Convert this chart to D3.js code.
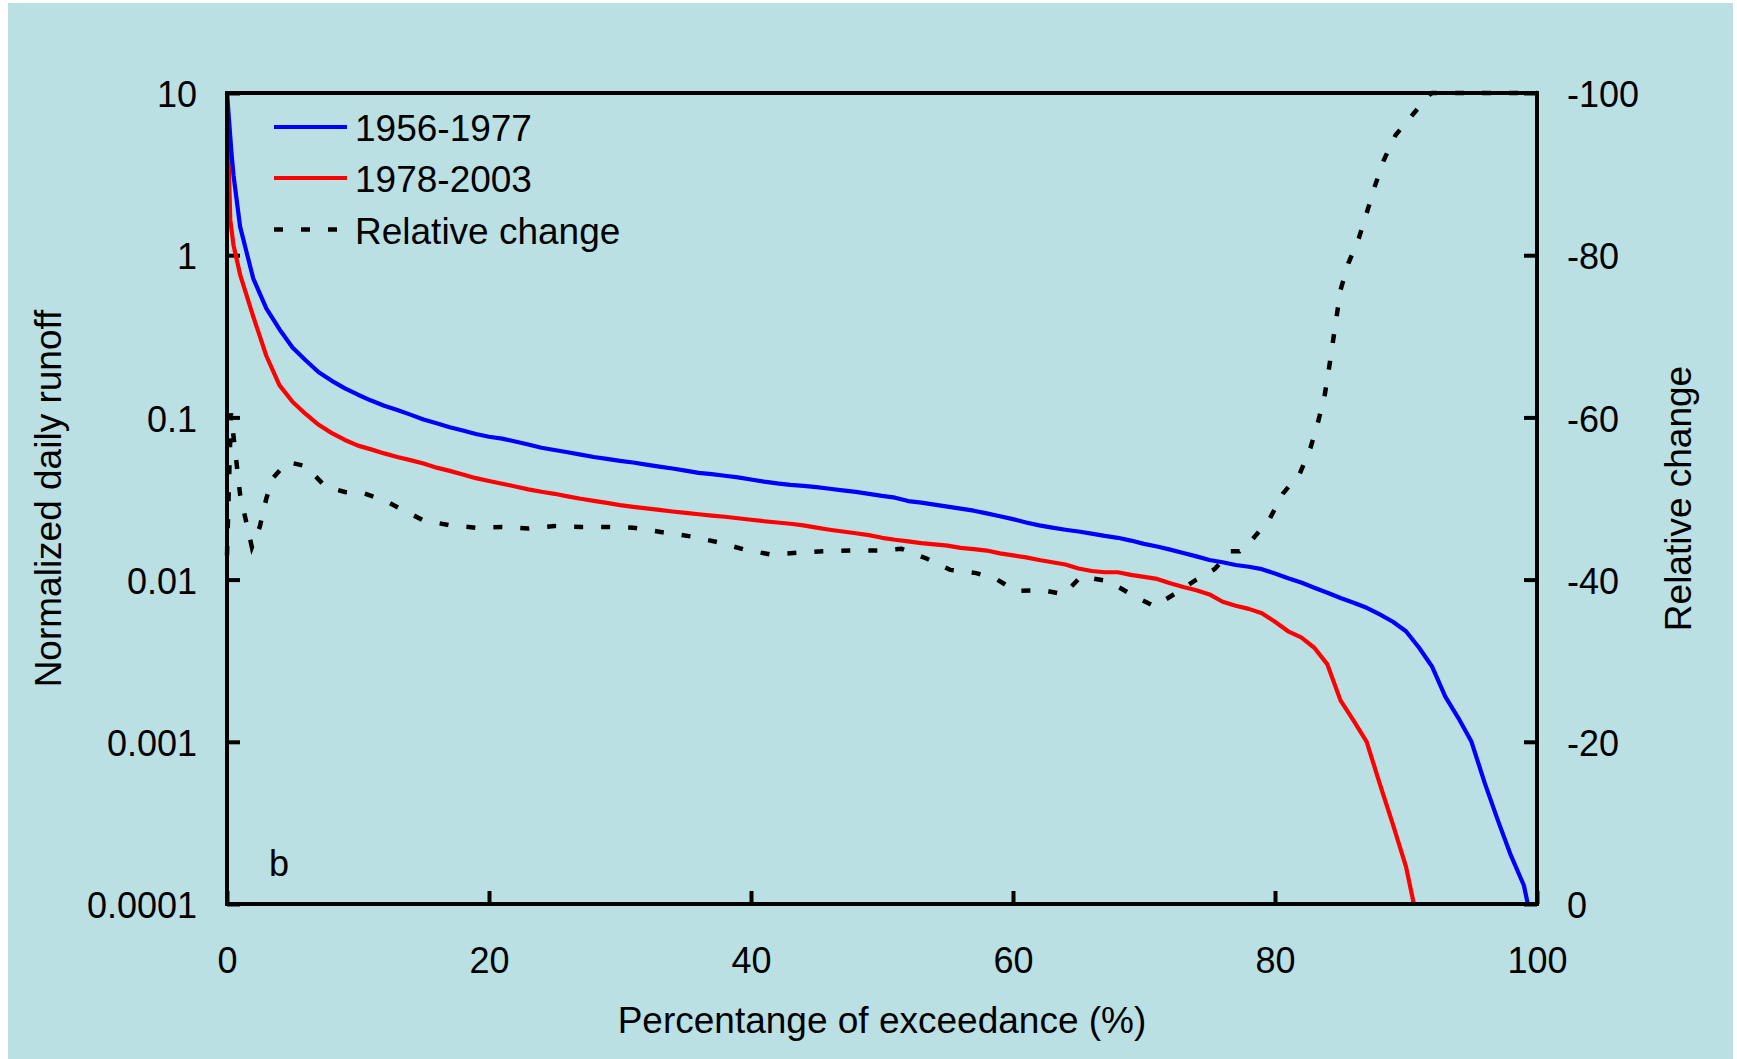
<!DOCTYPE html>
<html>
<head>
<meta charset="utf-8">
<script src="https://cdn.jsdelivr.net/npm/d3@7"></script>
<style>
  html, body { margin: 0; padding: 0; background: #ffffff; }
  svg { display: block; font-family: "Liberation Sans", Arial, sans-serif; }
</style>
</head>
<body>
<svg id="chart" width="1737" height="1059"></svg>
<script>
// ---------------- DATA ----------------
const seriesNames = ["1956-1977", "1978-2003", "Relative change"];

const pctBlue = [0,0.35,0.5,1,2,3,4,5,6,7,8,9,10,11,12,13,14,15,16,17,18,19,20,21,22,23,24,25,26,27,28,29,30,31,32,33,34,35,36,37,38,39,40,41,42,43,44,45,46,47,48,49,50,51,52,53,54,55,56,57,58,59,60,61,62,63,64,65,66,67,68,69,70,71,72,73,74,75,76,77,78,79,80,81,82,83,84,85,86,87,88,89,90,91,92,93,94,95,96,97,98,99,99.3];
const runoff1956 = [10,4.2,3.1,1.5,0.72,0.47,0.35,0.27,0.225,0.19,0.168,0.151,0.138,0.127,0.118,0.111,0.104,0.097,0.092,0.087,0.083,0.079,0.076,0.074,0.071,0.068,0.065,0.063,0.061,0.059,0.057,0.0555,0.054,0.0527,0.0512,0.0497,0.0484,0.047,0.0455,0.0447,0.0437,0.0427,0.0414,0.0402,0.0392,0.0384,0.0378,0.0372,0.0363,0.0355,0.0347,0.0338,0.0328,0.032,0.0305,0.0298,0.029,0.0282,0.0274,0.0266,0.0256,0.0246,0.0236,0.0225,0.0216,0.0209,0.0203,0.0198,0.0192,0.0186,0.0181,0.0174,0.0166,0.016,0.0153,0.0146,0.0139,0.0132,0.0128,0.0123,0.012,0.0116,0.0109,0.0102,0.0096,0.0089,0.0083,0.0077,0.0072,0.0067,0.0061,0.0055,0.0048,0.0038,0.0029,0.0019,0.0014,0.001,0.00056,0.00033,0.0002,0.00013,0.0001];

const pctRed = [0,0.1,0.25,0.5,1,2,3,4,5,6,7,8,9,10,11,12,13,14,15,16,17,18,19,20,21,22,23,24,25,26,27,28,29,30,31,32,33,34,35,36,37,38,39,40,41,42,43,44,45,46,47,48,49,50,51,52,53,54,55,56,57,58,59,60,61,62,63,64,65,66,67,68,69,70,71,72,73,74,75,76,77,78,79,80,81,82,83,84,85,86,87,88,89,90,90.6];
const runoff1978 = [10,4.5,1.65,1.15,0.76,0.42,0.24,0.158,0.125,0.105,0.09,0.08,0.0726,0.067,0.0635,0.06,0.057,0.0545,0.052,0.049,0.0468,0.0445,0.0422,0.0405,0.039,0.0375,0.036,0.0348,0.0338,0.0326,0.0315,0.0306,0.0297,0.0288,0.0281,0.0275,0.0269,0.0263,0.0258,0.0253,0.0248,0.0244,0.0239,0.0234,0.0229,0.0225,0.0221,0.0216,0.0209,0.0203,0.0198,0.0193,0.0188,0.0181,0.0176,0.0172,0.0168,0.0165,0.0162,0.0157,0.0154,0.0151,0.0145,0.0141,0.0137,0.0132,0.0128,0.0124,0.0117,0.0113,0.0111,0.0111,0.0107,0.0104,0.0101,0.0095,0.009,0.0086,0.0081,0.0073,0.0069,0.0066,0.0062,0.0055,0.0048,0.0044,0.0038,0.003,0.0018,0.00135,0.001,0.00055,0.00031,0.00017,0.0001];

const pctChange = [0,0.3,1,1.9,2.5,3,3.5,4.6,6,7.5,9,10.5,12,13.4,15,17,19,21,23,25,27,29,31,33,35.5,37.5,39.5,41.5,43.5,45.5,47.6,49.7,51.5,53.4,55.2,57.2,58.8,60.2,62.2,63.9,65.2,67.3,69.1,70.8,72.4,74,75.4,76.6,77.3,78.3,79.6,80.6,81.9,82.7,83.3,83.8,84.1,84.4,84.7,85,85.6,86.4,87,87.6,88.3,89.2,90.6,91.8,92,100];
const relChange = [-43,-60.5,-50.5,-44,-46.5,-50,-52.5,-54.5,-54,-51.5,-50.8,-50.6,-49.8,-48.6,-47.3,-46.7,-46.4,-46.5,-46.3,-46.6,-46.5,-46.5,-46.4,-45.9,-45.3,-44.6,-43.7,-43.1,-43.3,-43.5,-43.6,-43.6,-43.8,-42.6,-41.2,-40.8,-40,-38.6,-38.7,-38.2,-40.4,-39.8,-38.1,-36.7,-38.3,-40,-41.3,-43.5,-43.5,-45,-47.5,-50.6,-53.1,-56.2,-59.5,-62.8,-65.8,-69.1,-72.4,-75.7,-79,-82.1,-85.2,-88.4,-91.7,-94.8,-97.5,-99.8,-100,-100];

const xTicks = [0, 20, 40, 60, 80, 100];
const yLeftTicks = [0.0001, 0.001, 0.01, 0.1, 1, 10];
const yLeftLabels = ["0.0001", "0.001", "0.01", "0.1", "1", "10"];
const yRightTicks = [0, -20, -40, -60, -80, -100];
const yRightLabels = ["0", "-20", "-40", "-60", "-80", "-100"];

const xTitle = "Percentange of exceedance (%)";
const yLeftTitle = "Normalized daily runoff";
const yRightTitle = "Relative change";
const panelLabel = "b";

// ---------------- LAYOUT ----------------
const W = 1737, H = 1059;
const plot = { left: 227, right: 1537, top: 93, bottom: 904 };
const svg = d3.select("#chart");

svg.append("rect").attr("x", 0).attr("y", 0).attr("width", W).attr("height", H).attr("fill", "#ffffff");
svg.append("rect").attr("x", 8).attr("y", 3).attr("width", 1725).attr("height", H - 3).attr("fill", "#BBE0E3");

const x = d3.scaleLinear().domain([0, 100]).range([plot.left, plot.right]);
const yL = d3.scaleLog().domain([0.0001, 10]).range([plot.bottom, plot.top]);
const yR = d3.scaleLinear().domain([0, -100]).range([plot.bottom, plot.top]);

const tickFont = 36;
const titleFont = 37;

// Axes
const axLeft = d3.axisLeft(yL).tickValues(yLeftTicks)
  .tickFormat((d, i) => yLeftLabels[i]).tickSizeInner(-13).tickSizeOuter(0).tickPadding(30);
const axRight = d3.axisRight(yR).tickValues(yRightTicks)
  .tickFormat((d, i) => yRightLabels[i]).tickSizeInner(-13).tickSizeOuter(0).tickPadding(30);
const axBottom = d3.axisBottom(x).tickValues(xTicks)
  .tickFormat(d => String(d)).tickSizeInner(-13).tickSizeOuter(0).tickPadding(43);

function styleAxis(g, vertical) {
  g.select(".domain").remove();
  g.selectAll(".tick line").attr("stroke", "#000").attr("stroke-width", 4);
  const t = g.selectAll(".tick text").attr("fill", "#000").style("font-size", tickFont + "px")
    .style("font-family", '"Liberation Sans", Arial, sans-serif');
  if (vertical) t.attr("dy", "0.38em");
}

svg.append("g").attr("transform", `translate(${plot.left},0)`).call(axLeft).call(g => styleAxis(g, true));
svg.append("g").attr("transform", `translate(${plot.right},0)`).call(axRight).call(g => styleAxis(g, true));
svg.append("g").attr("transform", `translate(0,${plot.bottom})`).call(axBottom).call(g => styleAxis(g, false));

// Lines
const blueData = pctBlue.map((p, i) => [p, runoff1956[i]]);
const redData = pctRed.map((p, i) => [p, runoff1978[i]]);
const chgData = pctChange.map((p, i) => [p, relChange[i]]);

const lineL = d3.line().x(d => x(d[0])).y(d => yL(d[1]));
const lineR = d3.line().x(d => x(d[0])).y(d => yR(d[1]));

svg.append("path").datum(chgData).attr("d", lineR)
  .attr("fill", "none").attr("stroke", "#000").attr("stroke-width", 4.5)
  .attr("stroke-dasharray", "9,18");

svg.append("path").datum(redData).attr("d", lineL)
  .attr("fill", "none").attr("stroke", "#FF0000").attr("stroke-width", 4.2)
  .attr("stroke-linejoin", "round");

svg.append("path").datum(blueData).attr("d", lineL)
  .attr("fill", "none").attr("stroke", "#0000FF").attr("stroke-width", 4.2)
  .attr("stroke-linejoin", "round");

// Frame
svg.append("rect").attr("x", plot.left).attr("y", plot.top)
  .attr("width", plot.right - plot.left).attr("height", plot.bottom - plot.top)
  .attr("fill", "none").attr("stroke", "#000").attr("stroke-width", 4);

// Legend
const legend = [
  { name: seriesNames[0], color: "#0000FF", dash: null, y: 127 },
  { name: seriesNames[1], color: "#FF0000", dash: null, y: 178 },
  { name: seriesNames[2], color: "#000", dash: "9,18", y: 229.5 }
];
legend.forEach(l => {
  svg.append("line").attr("x1", 274).attr("x2", 347).attr("y1", l.y).attr("y2", l.y)
    .attr("stroke", l.color).attr("stroke-width", l.dash ? 4.5 : 4.2)
    .attr("stroke-dasharray", l.dash);
  svg.append("text").attr("x", 355).attr("y", l.y + 14)
    .attr("fill", "#000").style("font-size", titleFont + "px").text(l.name);
});

// Panel label
svg.append("text").attr("x", 269).attr("y", 876).attr("fill", "#000")
  .style("font-size", tickFont + "px").text(panelLabel);

// Titles
svg.append("text").attr("x", (plot.left + plot.right) / 2).attr("y", 1033)
  .attr("text-anchor", "middle").attr("fill", "#000").style("font-size", titleFont + "px").text(xTitle);
svg.append("text").attr("transform", `translate(61,${(plot.top + plot.bottom) / 2}) rotate(-90)`)
  .attr("text-anchor", "middle").attr("fill", "#000").style("font-size", titleFont + "px").text(yLeftTitle);
svg.append("text").attr("transform", `translate(1691,${(plot.top + plot.bottom) / 2}) rotate(-90)`)
  .attr("text-anchor", "middle").attr("fill", "#000").style("font-size", titleFont + "px").text(yRightTitle);
</script>
</body>
</html>
